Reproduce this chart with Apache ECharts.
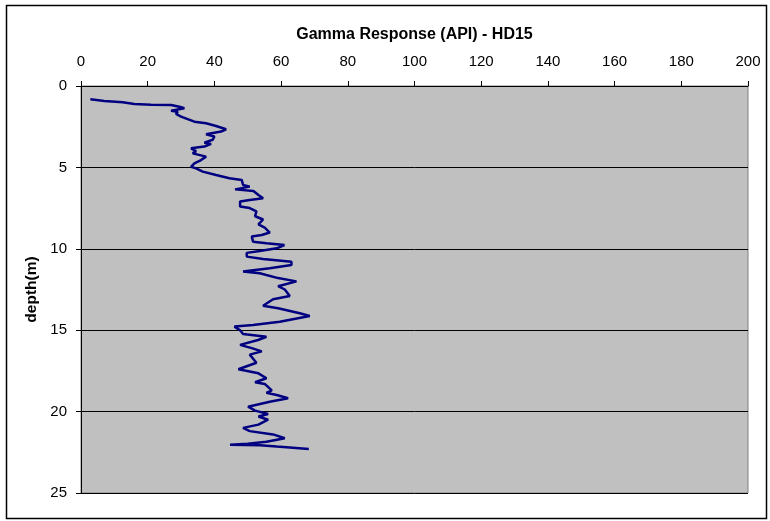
<!DOCTYPE html>
<html>
<head>
<meta charset="utf-8">
<script src="https://cdn.jsdelivr.net/npm/echarts@6/dist/echarts.min.js"></script>
<style>
  html, body { margin: 0; padding: 0; background: #fff; }
  #chart { width: 770px; height: 521px; }
</style>
</head>
<body>
<div id="chart"></div>
<script>
// Gamma log for borehole HD15: depth (m) and gamma response (API)
const depth = [
  0.82, 0.92, 1.0, 1.1, 1.15, 1.17, 1.27, 1.37, 1.52, 1.58, 1.72, 1.88,
  2.19, 2.29, 2.46, 2.66, 2.8, 2.97, 3.1, 3.3, 3.48, 3.56, 3.72, 3.83,
  4.0, 4.14, 4.34, 4.55, 4.75, 4.96, 5.06, 5.26, 5.47, 5.67, 5.77, 6.08,
  6.18, 6.35, 6.45, 6.7, 6.9, 7.0, 7.1, 7.4, 7.5, 7.7, 8.0, 8.2,
  8.5, 8.7, 9.0, 9.15, 9.25, 9.56, 9.66, 9.77, 9.97, 10.14, 10.25, 10.48,
  10.63, 10.79, 11.0, 11.2, 11.4, 11.5, 11.8, 12.0, 12.3, 12.5, 12.9, 13.1,
  13.5, 13.65, 13.96, 14.13, 14.48, 14.68, 14.78, 15.0, 15.23, 15.4, 15.6, 15.9,
  16.1, 16.3, 16.5, 17.0, 17.4, 17.65, 17.95, 18.2, 18.3, 18.7, 18.85, 18.98,
  19.18, 19.4, 19.7, 19.94, 20.15, 20.3, 20.5, 20.8, 21.0, 21.2, 21.4, 21.64,
  21.85, 21.98, 22.03, 22.06, 22.15, 22.3
];
const gamma = [
  2.8, 7.0, 12.5, 16.0, 21.0, 27.0, 29.5, 31.0, 27.0, 29.0, 28.5, 30.0,
  34.0, 37.5, 40.5, 43.5, 42.0, 37.5, 40.0, 39.5, 37.0, 39.0, 37.0, 33.0,
  34.5, 33.5, 37.5, 36.0, 34.0, 33.0, 34.5, 36.5, 40.5, 44.5, 48.2, 48.6,
  50.6, 46.2, 51.7, 53.2, 54.6, 50.6, 47.7, 47.7, 50.6, 52.6, 52.2, 54.6,
  53.2, 55.1, 56.6, 54.2, 51.2, 51.6, 55.6, 61.0, 58.7, 53.6, 49.7, 49.7,
  54.6, 63.1, 63.1, 56.6, 48.6, 53.6, 59.1, 64.6, 59.1, 61.1, 62.6, 57.6,
  54.6, 59.1, 65.6, 68.6, 59.6, 51.6, 46.0, 47.7, 48.6, 55.6, 53.1, 47.7,
  51.2, 54.2, 50.6, 52.6, 47.2, 53.2, 55.6, 52.2, 55.1, 57.2, 55.6, 58.7,
  62.1, 56.6, 50.1, 52.2, 56.1, 53.2, 56.1, 53.2, 48.6, 50.6, 57.6, 61.1,
  55.6, 50.0, 44.7, 53.6, 58.7, 68.3
];

const xTitle = 'Gamma Response (API) - HD15';
const yTitle = 'depth(m)';
const xRange = [0, 200, 20];
const yRange = [0, 25, 5];

const points = depth.map((d, i) => [gamma[i], d]);
const font = 'Liberation Sans, Arial, sans-serif';

const chart = echarts.init(document.getElementById('chart'), null, { renderer: 'canvas' });
chart.setOption({
  animation: false,
  backgroundColor: '#ffffff',
  graphic: [{
    type: 'rect',
    silent: true,
    shape: { x: 6.5, y: 5.5, width: 760, height: 513 },
    style: { fill: 'none', stroke: '#000000', lineWidth: 1.5 }
  }],
  grid: {
    left: 81, top: 86, width: 667, height: 407,
    show: true,
    backgroundColor: '#c0c0c0',
    borderColor: '#808080',
    borderWidth: 1
  },
  xAxis: {
    type: 'value',
    position: 'top',
    min: xRange[0], max: xRange[1], interval: xRange[2],
    name: xTitle,
    nameLocation: 'middle',
    nameGap: 43,
    nameTextStyle: { fontFamily: font, fontSize: 16, fontWeight: 'bold', color: '#000' },
    axisLine: { show: true, lineStyle: { color: '#000', width: 1 } },
    axisTick: { show: true, inside: false, length: 5, lineStyle: { color: '#000' } },
    axisLabel: { fontFamily: font, fontSize: 15, color: '#000', margin: 17 },
    splitLine: { show: false }
  },
  yAxis: {
    type: 'value',
    inverse: true,
    min: yRange[0], max: yRange[1], interval: yRange[2],
    name: yTitle,
    nameLocation: 'middle',
    nameGap: 38,
    nameRotate: 90,
    nameTextStyle: { fontFamily: font, fontSize: 15.5, fontWeight: 'bold', color: '#000' },
    axisLine: { show: true, lineStyle: { color: '#000', width: 1 } },
    axisTick: { show: true, inside: false, length: 5, lineStyle: { color: '#000' } },
    axisLabel: { fontFamily: font, fontSize: 15, color: '#000', margin: 14 },
    splitLine: { show: true, lineStyle: { color: '#000', width: 1 } }
  },
  series: [{
    type: 'line',
    data: points,
    showSymbol: false,
    symbol: 'none',
    smooth: false,
    lineStyle: { color: '#000080', width: 2.5 },
    itemStyle: { color: '#000080' }
  }]
});
</script>
</body>
</html>
